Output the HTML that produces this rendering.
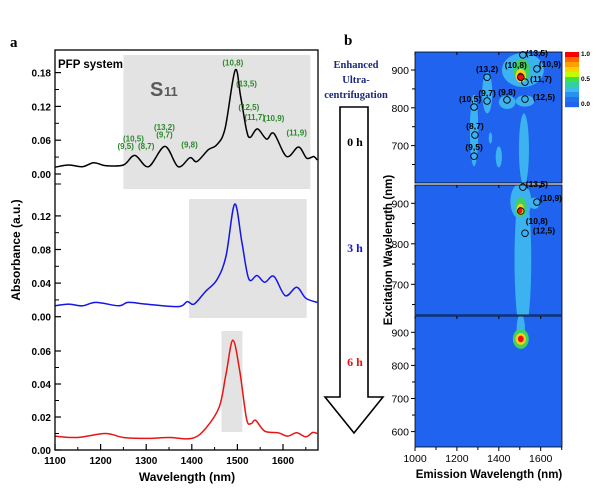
<!DOCTYPE html>
<html><head><meta charset="utf-8"><style>
body{margin:0;background:#fff;}
svg{display:block;font-family:"Liberation Sans",sans-serif;}
</style></head><body>
<svg id="fig" width="600" height="502" viewBox="0 0 600 502" xmlns="http://www.w3.org/2000/svg">
<defs>
<clipPath id="cA"><rect x="55" y="50" width="263" height="400"/></clipPath>
<clipPath id="c1"><rect x="415" y="52" width="147" height="131"/></clipPath>
<clipPath id="c2"><rect x="415" y="185" width="147" height="130"/></clipPath>
<clipPath id="c3"><rect x="415" y="316" width="147" height="131"/></clipPath>
</defs>
<text x="10" y="47" font-family="Liberation Serif,serif" font-weight="bold" font-size="15">a</text>
<text x="344" y="45" font-family="Liberation Serif,serif" font-weight="bold" font-size="15">b</text>
<g id="left"></g>
<g id="mid">
<g font-family="Liberation Serif,serif" font-weight="bold" font-size="10.5" fill="#1a2a7a" text-anchor="middle">
<text x="356" y="68">Enhanced</text><text x="356" y="83">Ultra-</text><text x="356" y="98">centrifugation</text></g>
<path d="M340,107 H368 V397 H383 L354,433 L325,397 H340 Z" fill="#fff" stroke="#000" stroke-width="1.6"/>
<g font-family="Liberation Serif,serif" font-weight="bold" font-size="12" text-anchor="middle">
<text x="355" y="146" fill="#000">0 h</text>
<text x="355" y="252" fill="#1515e0">3 h</text>
<text x="355" y="366" fill="#e01515">6 h</text></g>
</g>
<g id="right"></g>
</svg>
<script>
// ---------- absorbance data ----------
const wl0 = [1100,1130,1160,1185,1210,1250,1275,1305,1341,1370,1396,1411,1436,1455,1473,1495,1507,1520,1528,1544,1564,1580,1608,1634,1652,1667,1675];
const abs0 = [0.012,0.016,0.013,0.020,0.015,0.016,0.033,0.013,0.049,0.013,0.029,0.022,0.043,0.052,0.081,0.184,0.138,0.078,0.065,0.080,0.062,0.072,0.031,0.048,0.028,0.031,0.025];
const wl3 = [1100,1130,1160,1190,1240,1260,1300,1370,1390,1405,1430,1455,1475,1494,1510,1525,1543,1560,1580,1605,1630,1650,1675];
const abs3 = [0.013,0.015,0.013,0.017,0.013,0.017,0.015,0.012,0.018,0.015,0.030,0.044,0.072,0.134,0.088,0.045,0.049,0.041,0.048,0.025,0.035,0.022,0.017];
const wl6 = [1100,1150,1210,1250,1300,1350,1400,1430,1460,1475,1490,1505,1520,1530,1540,1560,1590,1610,1630,1650,1665,1675];
const abs6 = [0.0084,0.0076,0.010,0.0076,0.007,0.0076,0.007,0.013,0.026,0.046,0.0666,0.048,0.019,0.016,0.018,0.0114,0.0104,0.0084,0.0104,0.008,0.0106,0.010];
const xTicks = [1100,1200,1300,1400,1500,1600];
const yTicks0 = ["0.00","0.06","0.12","0.18"];
const yTicks3 = ["0.00","0.04","0.08","0.12"];
const yTicks6 = ["0.00","0.02","0.04","0.06"];
const s11Labels = [["(10,8)",1490,0.193],["(13,5)",1520,0.155],["(12,5)",1525,0.114],["(11,7)",1538,0.096],["(10,9)",1580,0.094],["(11,9)",1630,0.068],["(13,2)",1340,0.078],["(9,7)",1340,0.065],["(10,5)",1272,0.058],["(9,5)",1255,0.044],["(8,7)",1300,0.044],["(9,8)",1395,0.047]];
const bands = [[1250,1660],[1394,1652],[1465,1511]];

const NS="http://www.w3.org/2000/svg";
function el(t,a,p){const e=document.createElementNS(NS,t);for(const k in a)e.setAttribute(k,a[k]);(p||document.getElementById('fig')).appendChild(e);return e;}
const xA = w => 55 + (w-1100)*0.456;
const yP = [ v=>174 - v/0.06*33.8, v=>316.7 - v/0.04*33.6, v=>450 - v/0.02*33 ];
const L = document.getElementById('left');
const bandY = [[55,189],[199,318],[331,432]];
bands.forEach((b,i)=>{
  const r = el('rect',{x:xA(b[0]),y:bandY[i][0],width:xA(b[1])-xA(b[0]),height:bandY[i][1]-bandY[i][0],fill:'#e3e3e3'},L);
  
  
});
function smooth(xs,ys,fx,fy){
  const P=xs.map((x,i)=>[fx(x),fy(ys[i])]);let d='M'+P[0][0].toFixed(1)+','+P[0][1].toFixed(1);
  for(let i=0;i<P.length-1;i++){const p0=P[i-1]||P[i],p1=P[i],p2=P[i+1],p3=P[i+2]||p2;
    const c1=[p1[0]+(p2[0]-p0[0])/6,p1[1]+(p2[1]-p0[1])/6],c2=[p2[0]-(p3[0]-p1[0])/6,p2[1]-(p3[1]-p1[1])/6];
    d+=`C${c1[0].toFixed(1)},${c1[1].toFixed(1)} ${c2[0].toFixed(1)},${c2[1].toFixed(1)} ${p2[0].toFixed(1)},${p2[1].toFixed(1)}`;}
  return d;}
const series=[[wl0,abs0,'#000','spectrum-0h'],[wl3,abs3,'#1515e8','spectrum-3h'],[wl6,abs6,'#e81515','spectrum-6h']];
series.forEach((s,i)=>{
  const p=el('path',{d:smooth(s[0],s[1],xA,yP[i]),fill:'none',stroke:s[2],'stroke-width':1.5,'clip-path':'url(#cA)'},L);
  
  
});
const fr=el('rect',{x:55,y:50,width:263,height:400,fill:'none',stroke:'#000','stroke-width':1.3},L);


[yTicks0,yTicks3,yTicks6].forEach((ticks,i)=>{
  ticks.forEach((t,j)=>{
    const y=yP[i](parseFloat(t));
    el('line',{x1:55,x2:61,y1:y,y2:y,stroke:'#000','stroke-width':1.2},L);
    const tx=el('text',{x:51,y:y+4,'text-anchor':'end','font-size':10,'font-weight':'bold'},L);
    tx.textContent=t;
    
    
    if(j<ticks.length-1){const v=(parseFloat(t)+parseFloat(ticks[j+1]))/2;const ym=yP[i](v);el('line',{x1:55,x2:59,y1:ym,y2:ym,stroke:'#000'},L);}
  });
});
el('line',{x1:55,x2:61,y1:184,y2:184,stroke:'#000'},L);
xTicks.forEach(t=>{
  const x=xA(t);
  el('line',{x1:x,x2:x,y1:450,y2:444,stroke:'#000','stroke-width':1.2},L);
  el('line',{x1:x+22.8,x2:x+22.8,y1:450,y2:447,stroke:'#000'},L);
  const tx=el('text',{x:x,y:464,'text-anchor':'middle','font-size':10,'font-weight':'bold'},L);
  tx.textContent=t;
  
  
});
let t=el('text',{x:187,y:481,'text-anchor':'middle','font-size':12,'font-weight':'bold'},L);t.textContent='Wavelength (nm)';


t=el('text',{x:0,y:0,'text-anchor':'middle','font-size':12,'font-weight':'bold',transform:'translate(20,250) rotate(-90)'},L);t.textContent='Absorbance (a.u.)';


t=el('text',{x:58,y:68,'font-size':11.5,'font-weight':'bold'},L);t.textContent='PFP system';


t=el('text',{x:150,y:96,'font-size':20,'font-weight':'bold',fill:'#5a5a5a'},L);t.textContent='S';


t=el('text',{x:164,y:96,'font-size':13,'font-weight':'bold',fill:'#5a5a5a'},L);t.textContent='11';


s11Labels.forEach(l=>{
  const tx=el('text',{x:xA(l[1]),y:yP[0](l[2]),'text-anchor':'middle','font-size':8,'font-weight':'bold',fill:'#2a8a2a'},L);
  tx.textContent=l[0];
  
  
});

// ---------- PLE maps ----------
const emTicks=[1000,1200,1400,1600];
const exTicks1=[700,800,900], exTicks3=[600,700,800,900];
// blobs: [emission, excitation, halfWidthEm, halfHeightEx, level 0-4]
const blobs1=[[1515,900,100,45,1],[1520,690,24,95,1],[1282,740,20,95,1],[1345,840,24,55,1],[1440,815,40,18,1],[1525,818,45,15,1],[1400,670,15,28,1],[1360,720,8,15,1],[1510,900,40,30,2],[1505,885,25,18,3],[1503,882,15,11,4]];
const blobs2=[[1515,760,40,190,1],[1505,905,50,45,1],[1300,575,400,6,1],[1505,890,28,24,2],[1503,885,18,14,3],[1502,883,11,8,4],[1570,900,25,14,1]];
const blobs3=[[1505,910,20,45,1],[1505,880,38,30,2],[1505,880,25,18,3],[1505,880,14,10,4]];
const circles1=[["(13,2)",1344,881],["(13,5)",1515,940],["(10,9)",1582,903],["(11,7)",1525,868],["(9,7)",1344,818],["(9,8)",1439,821],["(12,5)",1525,823],["(10,5)",1282,802],["(8,7)",1286,728],["(9,5)",1282,672],["(10,8)",1505,881]];
const circles2=[["(13,5)",1515,940],["(10,9)",1582,903],["(10,8)",1505,881],["(12,5)",1525,826]];
const levelColors=['#1f63ee','#3cb3f0','#40d060','#f0d020','#ee1010'];
const R=document.getElementById('right');
const xE=e=>415+(e-1000)*0.2095;
const panels=[
 {top:52,bot:183,y:v=>70+(900-v)*0.378,clip:'c1',blobs:blobs1,ticks:exTicks1,circ:circles1},
 {top:185,bot:315,y:v=>203.3+(900-v)*0.405,clip:'c2',blobs:blobs2,ticks:exTicks1,circ:circles2},
 {top:316,bot:447,y:v=>332.3+(900-v)*0.331,clip:'c3',blobs:blobs3,ticks:exTicks3,circ:[]}];
const labOff={"(13,2)":[0,-8],"(13,5)":[14,-2],"(10,9)":[13,-5],"(11,7)":[16,-3],"(9,7)":[0,-8],"(9,8)":[0,-8],"(12,5)":[19,-2],"(10,5)":[-4,-8],"(8,7)":[0,-9],"(9,5)":[0,-9],"(10,8)":[-5,-12]};
const labOff2={"(13,5)":[14,-3],"(10,9)":[14,-4],"(10,8)":[16,10],"(12,5)":[19,-3]};
panels.forEach((P,pi)=>{
  const g=el('g',{'clip-path':`url(#${P.clip})`},R);
  
  
  el('rect',{x:415,y:P.top,width:147,height:P.bot-P.top,fill:levelColors[0]},g);
  P.blobs.forEach(b=>{
    const e=el('ellipse',{cx:xE(b[0]),cy:P.y(b[1]),rx:b[2]*0.2095,ry:Math.abs(P.y(b[1]+b[3])-P.y(b[1])),fill:levelColors[b[4]]},g);
    
    
  });
  P.circ.forEach(c=>{
    const cx=xE(c[1]),cy=P.y(c[2]);
    const ci=el('circle',{cx:cx,cy:cy,r:3.3,fill:'none',stroke:'#000','stroke-width':0.9},R);
    
    
    const o=(pi===0?labOff:labOff2)[c[0]]||[0,-8];
    const tx=el('text',{x:cx+o[0],y:cy+o[1]+3,'text-anchor':'middle','font-size':8.5,'font-weight':'bold',fill:'#000'},R);
    tx.textContent=c[0];
    
    
  });
  el('rect',{x:415,y:P.top,width:147,height:P.bot-P.top,fill:'none',stroke:'#000','stroke-width':0.8},R);
  P.ticks.forEach(v=>{
    const y=P.y(v);
    el('line',{x1:411,x2:415,y1:y,y2:y,stroke:'#000'},R);
    const tx=el('text',{x:409,y:y+4,'text-anchor':'end','font-size':10.5},R);
    tx.textContent=v;
    
    
    const ym=P.y(v-50); if(ym<P.bot) el('line',{x1:412,x2:415,y1:ym,y2:ym,stroke:'#000'},R);
  });
  emTicks.forEach(v=>{el('line',{x1:xE(v),x2:xE(v),y1:P.top,y2:P.top+3,stroke:'#000'},R);});
});
emTicks.forEach(v=>{
  const x=xE(v);
  el('line',{x1:x,x2:x,y1:447,y2:451,stroke:'#000'},R);
  el('line',{x1:x+21,x2:x+21,y1:447,y2:450,stroke:'#000'},R);
  const tx=el('text',{x:x,y:462,'text-anchor':'middle','font-size':10.5},R);
  tx.textContent=v;
  
  
});
t=el('text',{x:489,y:478,'text-anchor':'middle','font-size':11.5,'font-weight':'bold'},R);t.textContent='Emission Wavelength (nm)';


t=el('text',{x:0,y:0,'text-anchor':'middle','font-size':11.5,'font-weight':'bold',transform:'translate(392,250) rotate(-90)'},R);t.textContent='Excitation Wavelength (nm)';


const cbColors=['#ff0000','#ff6a00','#ffa000','#ffd000','#c0ff00','#40e040','#30d0a0','#40b8f0','#2a90f0','#2070f0','#1f63ee'];
cbColors.forEach((c,i)=>{el('rect',{x:565,y:52+i*5,width:14,height:5.2,fill:c},R);});
const cbLabels=["1.0","0.5","0.0"];
cbLabels.forEach((l,i)=>{
  const tx=el('text',{x:581,y:56+i*25,'font-size':6.5,'font-weight':'bold'},R);
  tx.textContent=l;
  
  
});
</script>
</body></html>
